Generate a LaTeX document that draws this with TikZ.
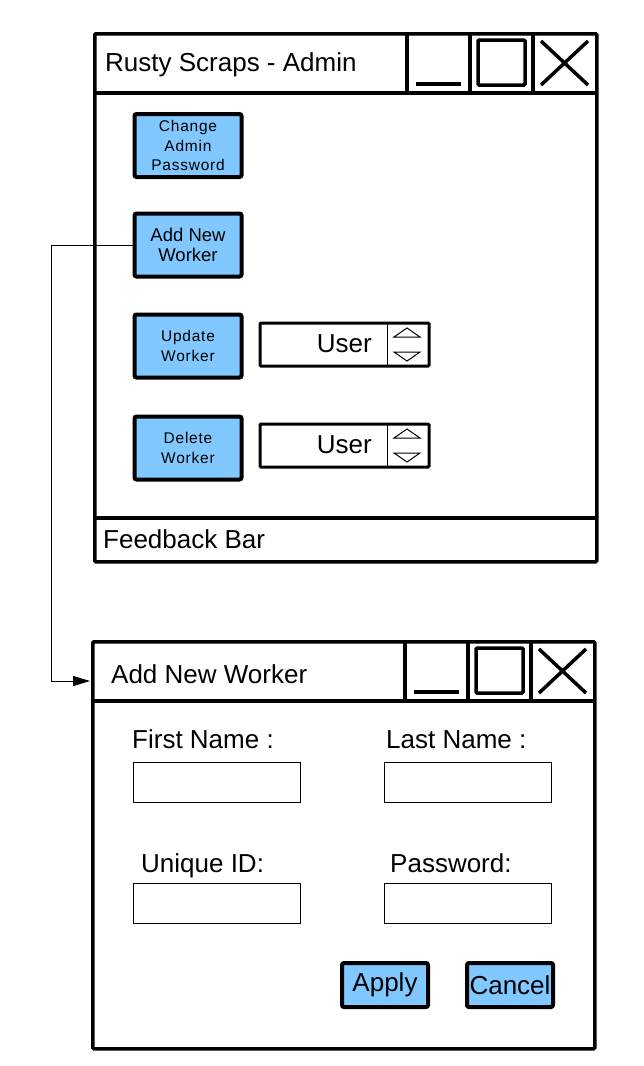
\documentclass[tikz,border=0pt]{standalone}
\usepackage{fontspec}
\setmainfont{Liberation Sans}
\usetikzlibrary{arrows.meta}
\definecolor{btnblue}{RGB}{128,200,255}
\newcommand\wintitle[2]{%
  \begin{scope}[shift={(#1,#2)}]
    \draw[heavy] (0,61) -- (502,61);
    \draw[heavy] (314,0) -- (314,61) (377,0) -- (377,61) (440,0) -- (440,61);
    \draw[heavy] (323,52) -- (368,52);
    \draw[heavy,rounded corners=1pt] (385,8) rectangle (432,53);
    \draw[heavy] (448,9) -- (495,53) (448,53) -- (495,9);
  \end{scope}}
\newcommand\spinarrows[2]{%
  \begin{scope}[shift={(#1,#2)}]
    \draw[thinline] (0,0) -- (0,43);
    \draw[thinline] (7,14) -- (20,5) -- (33,14) -- cycle;
    \draw[thinline] (7,29) -- (20,38) -- (33,29) -- cycle;
  \end{scope}}
\begin{document}
\begin{tikzpicture}[x=1pt,y=-1pt,
  heavy/.style={line width=3.5pt},
  thinline/.style={line width=1pt},
  frame/.style={draw=black,line width=3.5pt,rounded corners=1pt,inner sep=0pt,anchor=north west},
  btn/.style={draw=black,fill=btnblue,line width=4pt,rounded corners=2pt,inner sep=0pt,
    minimum width=107pt,minimum height=63pt,align=center},
  smalltxt/.style={font=\fontsize{15.5}{19.5}\selectfont\addfontfeature{LetterSpace=5}},
  bigtxt/.style={font=\fontsize{26}{31}\selectfont},
  label/.style={bigtxt,inner sep=0pt,anchor=base west},
  spin/.style={draw=black,line width=3pt,rounded corners=1pt,inner sep=0pt,
    minimum width=169pt,minimum height=43pt},
  field/.style={draw=black,line width=1.3pt,inner sep=0pt,anchor=north west,
    minimum width=167pt,minimum height=40pt},
  btntwo/.style={btn,minimum width=86pt,minimum height=44pt,bigtxt},
  conn/.style={draw=black,line width=1pt,-{Triangle[length=17pt,width=10pt]}}
]
\useasboundingbox (0,0) rectangle (644,1066);
\fill[white] (0,0) rectangle (644,1066);

% ---- main admin window ----
\node[frame,minimum width=502pt,minimum height=528pt] (w1) at (93,32) {};
\wintitle{93}{32}
\draw[heavy] (93,518) -- (595,518);
\node[label] (t1) at (105,71) {Rusty Scraps - Admin};
\node[label] (fb) at (103,548) {Feedback Bar};

\node[btn,smalltxt] (chg) at (188,145.5) {Change\\Admin\\Password};
\node[btn,font=\fontsize{18.5}{20.5}\selectfont] (add) at (188,245) {Add New\\Worker};
\node[btn,smalltxt] (upd) at (188,346) {Update\\Worker};
\node[btn,smalltxt] (del) at (188,448) {Delete\\Worker};

\node[spin] (sp1) at (344.5,344.5) {};
\spinarrows{387}{323}
\node[label,anchor=base east] (u1) at (372,352) {User};
\node[spin] (sp2) at (344.5,445.5) {};
\spinarrows{387}{424}
\node[label,anchor=base east] (u2) at (372,453) {User};

% ---- add worker window ----
\node[frame,minimum width=502pt,minimum height=407pt] (w2) at (91,640) {};
\wintitle{91}{640}
\node[label] (t2) at (111,683) {Add New Worker};

\node[label] (lfn) at (132,748) {First Name :};
\node[field] (ffn) at (133,762) {};
\node[label] (lln) at (386,748) {Last Name :};
\node[field] (fln) at (384,762) {};
\node[label] (lid) at (141,872) {Unique ID:};
\node[field] (fid) at (133,883) {};
\node[label] (lpw) at (390,872) {Password:};
\node[field] (fpw) at (384,883) {};

\node[btntwo] (apply) at (385,985) {Apply};
\node[btntwo] (cancel) at (510,985) {Cancel};

% ---- connector ----
\coordinate (bend) at (51,245);
\coordinate (w2in) at (90,681);
\draw[conn] (add.west) -- (bend) |- (w2in);
\end{tikzpicture}
\end{document}
